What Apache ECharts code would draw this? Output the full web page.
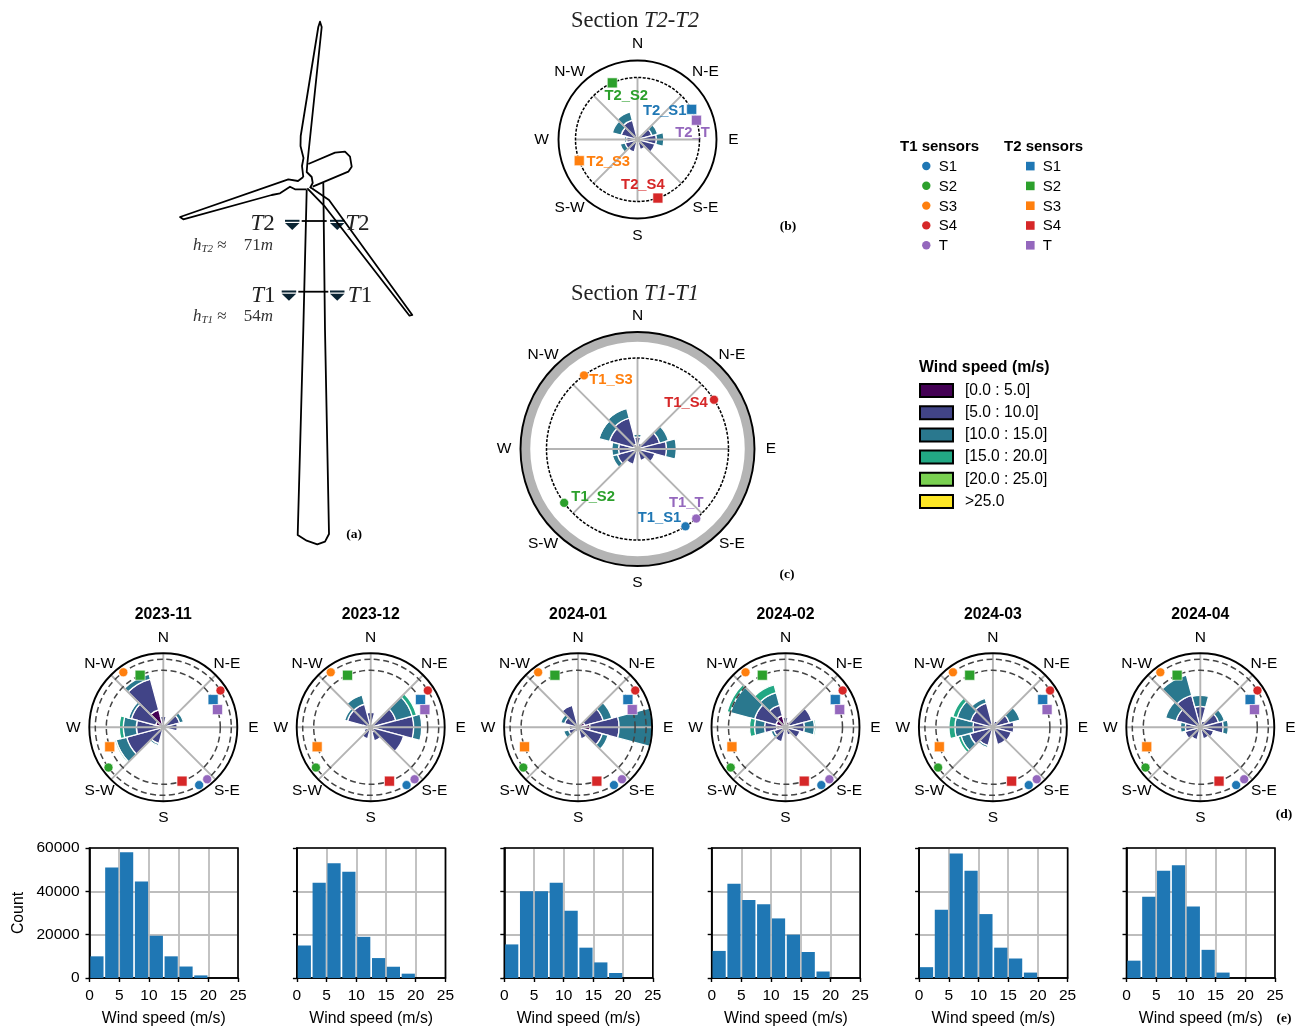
<!DOCTYPE html>
<html><head><meta charset="utf-8">
<style>html,body{margin:0;padding:0;background:#fff}#c{width:1303px;height:1029px}</style>
<script src="https://cdn.jsdelivr.net/npm/echarts@6/dist/echarts.min.js"></script>
</head><body><div id="c"></div>
<script>
const compassLabels = ['N','N-E','E','S-E','S','S-W','W','N-W'];
const sectors = ['0','30','60','90','120','150','180','210','240','270','300','330'];
const speedBins = ['[0.0 : 5.0]','[5.0 : 10.0]','[10.0 : 15.0]','[15.0 : 20.0]','[20.0 : 25.0]','>25.0'];
const speedColors = ['#440154','#414487','#2a788e','#22a884','#7ad151','#fde725'];
const sensorNames = ['S1','S2','S3','S4','T'];
const sensorColors = ['#1f77b4','#2ca02c','#ff7f0e','#d62728','#9467bd'];
const t1Bearings = [148.2,233.7,324,57.2,139.8];
const t2Bearings = [60.9,336,250,160.8,71.9];
const months = ['2023-11','2023-12','2024-01','2024-02','2024-03','2024-04'];
const histBins = [1.25,3.75,6.25,8.75,11.25,13.75,16.25,18.75];

// wind rose values by speed bin, then by sector clockwise from north
const roseT2 = [
 [2,1,1,1,1,.5,.5,1,1,1,2,2],
 [4,3,14,18,17,10,2,12,12,10,15,18],
 [0,0,6,7.5,0,0,0,0,5,2,9,8.5]];
const roseT1 = [
 [3,2,2,2,2,1,1,2,3,3,4,5],
 [9,4,21,27,16,11,2,14,18,16,25,27],
 [3,0,9,10,0,0,0,0,5,7,11,10],
 [0,0,0,1,0,0,0,0,0,.8,1,.8]];
const rose202311 = [
 [1,.5,2,1,.5,.5,.5,2,3,2,8,18],
 [10,.5,15,13,1,2,3,15,35,25,25,32],
 [0,0,4,0,0,0,0,2,11,13,3,5],
 [0,0,0,0,0,0,0,0,1.5,4,1,0]];
const rose202312 = [
 [1,1,3,4,3,5,1,2,2,1,3,3],
 [14,2,23,39,31,9,2,10,5,6,21,21],
 [0,0,17,8,0,0,0,0,0,.5,3,9.5],
 [0,0,4.5,0,0,0,0,0,0,0,0,1]];
const rose202401 = [
 [1,4,7,12,3,2,1,1,1,2,2,2],
 [2,0,19,29,22,10,2,4,9,7,12,21],
 [0,0,9,33,6,0,0,0,5,0,4,1]];
const rose202402 = [
 [3,6,4,2,2,1,.5,1,2,9,10,12],
 [7,0,23,17,13,7,2,14,10,12,22,11],
 [0,0,0,10,0,0,0,0,3,10,25,13],
 [0,0,0,1.5,0,0,0,0,0,5,3.5,8]];
const rose202403 = [
 [1,1,1,2,1,1,1,2,3,3,3,3],
 [6,6,16,19,18,17,3,17,21,17,20,22],
 [0,0,11,0,0,0,0,2,9,18,14,5],
 [0,0,0,0,0,0,0,0,3,6,4.5,0]];
const rose202404 = [
 [1,1,2,2,1,1,1,1,1,2,2,2],
 [20,6,17,21,13,11,3,12,15,13,23,31],
 [11,0,6,5,1,0,0,1,1,5,11,21]];

const hist202311 = [10000,51000,58000,44500,19500,10000,5300,1200];
const hist202312 = [15000,44000,53000,49000,19000,9200,5200,2000];
const hist202401 = [15500,40000,40000,44000,31000,14000,7200,2300];
const hist202402 = [12500,43500,36000,34000,27500,20000,12000,3000];
const hist202403 = [5000,31500,57500,49500,29500,14000,9000,2500];
const hist202404 = [8000,37500,49500,52000,33000,13000,2500,0];

const monthRoses = [rose202311,rose202312,rose202401,rose202402,rose202403,rose202404];
const monthHists = [hist202311,hist202312,hist202401,hist202402,hist202403,hist202404];

const SANS = 'Liberation Sans', SERIF = 'Liberation Serif';
const polar=[], angleAxis=[], radiusAxis=[], series=[];

function addPolar(cx,cy,r,maxR,angleCfg){
  polar.push({center:[cx,cy],radius:r});
  const i=polar.length-1;
  angleAxis.push(Object.assign({polarIndex:i,type:'value',min:0,max:360,interval:45,startAngle:90,clockwise:true,z:3,
    axisTick:{show:false},axisLabel:{show:false},splitLine:{show:false},axisLine:{show:false}},angleCfg));
  radiusAxis.push({polarIndex:i,type:'value',min:0,max:maxR,axisLine:{show:false},axisTick:{show:false},axisLabel:{show:false},splitLine:{show:false}});
  return i;
}
const spokeStyle={show:true,lineStyle:{color:'#b4b4b4',width:1.9}};

function addRose(key,cx,cy,R,bins,o){
  // wind rose bars
  const b=polar.length;
  polar.push({center:[cx,cy],radius:R});
  angleAxis.push({polarIndex:b,type:'category',data:sectors,boundaryGap:true,startAngle:105,clockwise:true,show:false});
  radiusAxis.push({polarIndex:b,type:'value',min:0,max:R,show:false});
  speedBins.forEach((name,k)=>{
    const vals=bins[k]||sectors.map(()=>null);
    series.push({type:'bar',name,coordinateSystem:'polar',polarIndex:b,stack:key,barWidth:'100%',barCategoryGap:'0%',z:2,silent:true,
      itemStyle:{color:speedColors[k],borderColor:'#fff',borderWidth:1.3},
      data:vals.map(v=>v||null)});
  });
  // decorative band, rings, spokes
  (o.bands||[]).forEach(g=>addPolar(cx,cy,g.r,R,{z:1,axisLine:{show:true,lineStyle:{color:g.color,width:g.width}}}));
  (o.rings||[]).forEach(g=>addPolar(cx,cy,g,R,{axisLine:{show:true,lineStyle:{color:o.ringColor,width:o.ringWidth,type:o.ringDash}}}));
  if(o.spokeR!==R) addPolar(cx,cy,o.spokeR,R,{splitLine:spokeStyle});
  const f=addPolar(cx,cy,R,R,{axisLine:{show:true,lineStyle:{color:'#000',width:1.9}},splitLine:o.spokeR===R?spokeStyle:{show:false}});
  // compass labels
  series.push({type:'scatter',coordinateSystem:'polar',polarIndex:f,clip:false,silent:true,symbolSize:1,z:6,
    itemStyle:{color:'transparent',opacity:1},
    label:{show:true,position:'inside',formatter:'{b}',fontFamily:SANS,fontSize:15.5,color:'#000',opacity:1},
    data:compassLabels.map((t,i)=>({name:t,value:[o.labelR,i*45]}))});
  // sensors
  (o.sensors||[]).forEach(s=>{
    s.bearings.forEach((bg,i)=>{
      series.push({type:'scatter',coordinateSystem:'polar',polarIndex:f,clip:false,silent:true,symbol:s.symbol,symbolSize:s.size,z:7,
        itemStyle:{color:sensorColors[i],borderColor:'#fff',borderWidth:.6,opacity:1},
        label:s.tag?{show:true,position:'inside',offset:s.offsets[i],formatter:s.tag+'_'+sensorNames[i],fontFamily:SANS,fontWeight:'bold',fontSize:14.8,color:sensorColors[i],opacity:1}:{show:false},
        data:[[s.r,bg]]});
    });
  });
}

addRose('T2',637.5,139.5,79,roseT2,{rings:[62],ringColor:'#000',ringWidth:1.5,ringDash:[3,1.5],spokeR:62,labelR:96,
  sensors:[{bearings:t2Bearings,r:62,symbol:'rect',size:10,tag:'T2',offsets:[[-27,2],[14,13],[29,1],[-15,-13],[-4,13]]}]});
addRose('T1',637.5,449,117,roseT1,{bands:[{r:112,color:'#b4b4b4',width:9.5}],rings:[91],ringColor:'#000',ringWidth:1.5,ringDash:[3,1.5],spokeR:91,labelR:133.5,
  sensors:[{bearings:t1Bearings,r:91,symbol:'circle',size:9,tag:'T1',offsets:[[-26,-8],[29,-6],[27,5],[-28,3],[-10,-16]]}]});

const secRich={a:{fontFamily:SERIF,fontWeight:'normal',fontSize:22.5,color:'#222'},b:{fontFamily:SERIF,fontWeight:'normal',fontStyle:'italic',fontSize:22.5,color:'#222'}};
const titles=[
 {text:'{a|Section }{b|T2}{a|-}{b|T2}',left:630,top:5,textAlign:'center',textStyle:{rich:secRich}},
 {text:'{a|Section }{b|T1}{a|-}{b|T1}',left:630,top:278,textAlign:'center',textStyle:{rich:secRich}},
 {text:'Wind speed (m/s)',left:919,top:360,padding:0,textStyle:{fontFamily:SANS,fontSize:15.8,fontWeight:'bold',color:'#000'}},
];
const grid=[],xAxis=[],yAxis=[];
months.forEach((m,i)=>{
  const cx=163.3+207.4*i, cy=727.3;
  addRose('M'+i,cx,cy,74,monthRoses[i],{rings:[68,57],ringColor:'#444',ringWidth:1.5,ringDash:[6,3.5],spokeR:74,labelR:90,
    sensors:[{bearings:t1Bearings,r:68,symbol:'circle',size:9},{bearings:t2Bearings,r:57,symbol:'rect',size:10}]});
  titles.push({text:m,left:cx,top:607,padding:0,textAlign:'center',textStyle:{fontFamily:SANS,fontSize:15.8,fontWeight:'bold',color:'#000'}});
  grid.push({left:89.5+207.4*i,top:848,width:148.5,height:130,show:true,borderColor:'#000',borderWidth:1.6,backgroundColor:'transparent',z:1});
  xAxis.push({gridIndex:i,type:'value',min:0,max:25,interval:5,name:'Wind speed (m/s)',nameLocation:'middle',nameGap:33,
    nameTextStyle:{fontFamily:SANS,fontSize:15.8,color:'#000'},
    axisLine:{onZero:false,lineStyle:{color:'#000',width:1.6}},axisTick:{length:4,lineStyle:{color:'#000',width:1.4}},
    axisLabel:{fontFamily:SANS,fontSize:15.5,color:'#000',margin:10,showMinLabel:true,showMaxLabel:true},
    splitLine:{show:true,lineStyle:{color:'#bdbdbd',width:1.8}}});
  yAxis.push({gridIndex:i,type:'value',min:0,max:60000,interval:20000,
    name:i===0?'Count':'',nameLocation:'middle',nameGap:63,nameTextStyle:{fontFamily:SANS,fontSize:15.8,color:'#000'},
    axisLine:{show:true,lineStyle:{color:'#000',width:1.6}},axisTick:{show:true,length:4,lineStyle:{color:'#000',width:1.4}},
    axisLabel:{show:i===0,fontFamily:SANS,fontSize:15.5,color:'#000',margin:10,formatter:v=>String(v)},
    splitLine:{show:true,lineStyle:{color:'#bdbdbd',width:1.8}}});
  series.push({type:'bar',name:'Count '+m,xAxisIndex:i,yAxisIndex:i,barWidth:13.2,z:2,silent:true,
    itemStyle:{color:'#1f77b4'},data:monthHists[i].map((v,k)=>[histBins[k],v])});
});

const BLK={stroke:'#000',lineWidth:1.8,fill:null,lineJoin:'round'};
const pl=pts=>({type:'polyline',shape:{points:pts},style:BLK,silent:true,z:10});
const tri=(x,y)=>({type:'group',silent:true,z:10,children:[
  {type:'rect',shape:{x:x,y:y-1.2,width:14.5,height:2},style:{fill:'#0a2433'}},
  {type:'polygon',shape:{points:[[x,y+2],[x+14.5,y+2],[x+7.25,y+9]]},style:{fill:'#0a2433'}}]});
const serifText=(x,y,rich,text,align)=>({type:'text',x:x,y:y,silent:true,z:10,style:{text:text,rich:rich,align:align||'center',verticalAlign:'middle'}});
const bigRich={i:{fontFamily:SERIF,fontStyle:'italic',fontSize:23,fill:'#222'},r:{fontFamily:SERIF,fontSize:23,fill:'#222'}};
const hRich={i:{fontFamily:SERIF,fontStyle:'italic',fontSize:17,fill:'#333'},s:{fontFamily:SERIF,fontStyle:'italic',fontSize:11,fill:'#333',verticalAlign:'bottom',padding:[6,0,0,0]},r:{fontFamily:SERIF,fontSize:17,fill:'#333'}};
const panel=(t,x,y)=>({type:'text',x:x,y:y,silent:true,z:10,style:{text:t,fontFamily:SERIF,fontWeight:'bold',fontSize:13.5,fill:'#000',align:'center',verticalAlign:'middle'}});
const sText=(t,x,y,bold,align)=>({type:'text',x:x,y:y+0.8,silent:true,z:10,style:{text:t,fontFamily:SANS,fontWeight:bold?'bold':'normal',fontSize:15,fill:'#000',align:align||'left',verticalAlign:'middle'}});

const graphicEls=[
 // tower
 pl([[306.7,190],[303.3,330],[297.7,535],[306.7,540.7],[317.3,544.3],[325,541.7],[329,534],[325,330],[323.3,183]]),
 // nacelle
 pl([[308.3,164],[335,152.7],[345,151.7],[350,156.7],[351.7,166.7],[348.3,171.7],[312.7,186.7]]),
 // upper blade
 pl([[303.3,177],[302,166],[303.5,158],[300.5,146],[300.7,136],[318.3,27],[320,21.7],[321.7,27],[307.3,164],[306.7,172],[311.7,177],[312.7,183],[310,188]]),
 // left blade
 pl([[303.3,177],[298,181],[288.3,179.3],[180,217],[183.3,219.3],[271.7,195],[280,193.3],[290,186.7],[295,189.3],[306.7,189.3]]),
 // right blade
 pl([[310,187],[329,200],[412.3,315],[409.5,315.7],[325,206.7],[307.3,188.3]]),
 // sections
 pl([[301.7,221],[326.7,221]]),pl([[298.3,291.7],[328.3,291.7]]),
 tri(285,221),tri(330,221),tri(281.7,291.7),tri(330,291.7),
 serifText(262.7,224,bigRich,'{i|T}{r|2}'),serifText(357.3,224,bigRich,'{i|T}{r|2}'),
 serifText(263.3,296,bigRich,'{i|T}{r|1}'),serifText(360,296,bigRich,'{i|T}{r|1}'),
 serifText(193,246,hRich,'{i|h}{s|T2}{r| ≈    71}{i|m}','left'),
 serifText(193,317,hRich,'{i|h}{s|T1}{r| ≈    54}{i|m}','left'),
 panel('(a)',354,535),panel('(b)',788,227),panel('(c)',787,575),panel('(d)',1284,815),panel('(e)',1284,1019),
 sText('T1 sensors',900,146,true),sText('T2 sensors',1004,146,true)
];
sensorNames.forEach((n,i)=>{
  const y=166+19.8*i;
  graphicEls.push({type:'circle',shape:{cx:926.3,cy:y,r:4.2},silent:true,style:{fill:sensorColors[i]}});
  graphicEls.push(sText(n,938.7,y));
  graphicEls.push({type:'rect',shape:{x:1026,y:y-4.2,width:8.6,height:8.6},silent:true,style:{fill:sensorColors[i]}});
  graphicEls.push(sText(n,1042.7,y));
});

const chart=echarts.init(document.getElementById('c'),null,{renderer:'canvas',width:1303,height:1029});
chart.setOption({
  animation:false,backgroundColor:'#fff',textStyle:{fontFamily:SANS},
  title:titles,polar,angleAxis,radiusAxis,grid,xAxis,yAxis,
  legend:{show:true,left:919,top:382.5,padding:0,orient:'vertical',data:speedBins,icon:'rect',itemWidth:33,itemHeight:13,itemGap:6.2,selectedMode:false,
    itemStyle:{borderColor:'#000',borderWidth:2},textStyle:{fontFamily:SANS,fontSize:15.6,color:'#000',padding:[0,0,0,7],lineHeight:13}},
  graphic:{elements:graphicEls},
  series
});
</script></body></html>
